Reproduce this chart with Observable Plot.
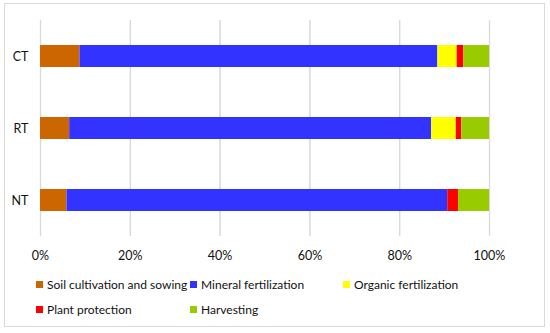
<!DOCTYPE html>
<html>
<head>
<meta charset="utf-8">
<script src="https://cdn.jsdelivr.net/npm/d3@7"></script>
<script src="https://cdn.jsdelivr.net/npm/@observablehq/plot@0.6"></script>
<style>
  html, body { margin: 0; padding: 0; background: #fff; }
  #wrap { position: relative; width: 550px; height: 333px; font-family: Lato, "Open Sans", sans-serif; color: #111; }
  #frame { position: absolute; left: 4px; top: 3px; width: 541px; height: 324px; border: 1px solid #d9d9d9; box-sizing: border-box; }
  #chart { position: absolute; left: 0; top: 0; }
  #legend { position: absolute; left: 36px; top: 276px; display: grid; grid-template-columns: 154px 153px 160px; row-gap: 9px; font-size: 12px; }
  .item { display: flex; align-items: center; white-space: nowrap; height: 16px; }
  .sw { width: 7px; height: 7px; margin-right: 4px; flex: none; }
</style>
</head>
<body>
<div id="wrap">
  <div id="frame"></div>
  <div id="chart"></div>
  <div id="legend"></div>
</div>
<script>
const systems = ["CT", "RT", "NT"];
const stages = ["Soil cultivation and sowing", "Mineral fertilization", "Organic fertilization", "Plant protection", "Harvesting"];
const colors = ["#CC6600", "#3333FF", "#FFFF00", "#FF0000", "#99CC00"];
// percent shares per stage, in order of systems
const soil =    [8.8, 6.5, 5.9];
const mineral = [79.7, 80.6, 84.8];
const organic = [4.3, 5.5, 0.0];
const plant =   [1.5, 1.2, 2.4];
const harvest = [5.7, 6.2, 6.9];
const xTicks = [0, 20, 40, 60, 80, 100];

const series = [soil, mineral, organic, plant, harvest];
const data = [];
systems.forEach((s, i) => {
  stages.forEach((st, j) => data.push({system: s, stage: st, value: series[j][i]}));
});

const chart = Plot.plot({
  width: 550,
  height: 270,
  marginTop: 20,
  marginBottom: 34,
  marginLeft: 40,
  marginRight: 61,
  style: {fontFamily: "Lato, 'Open Sans', sans-serif", fontSize: "12.5px", color: "#111", background: "transparent"},
  x: {domain: [0, 100], ticks: xTicks, tickFormat: d => d + "%", label: null, tickSize: 0, tickPadding: 15, grid: true},
  y: {domain: systems, label: null, tickSize: 0, tickPadding: 12, paddingInner: 0.69, paddingOuter: 0.345},
  color: {domain: stages, range: colors},
  marks: [
    Plot.gridX(xTicks, {stroke: "#d9d9d9", strokeOpacity: 1, strokeWidth: 1.3}),
    Plot.barX(data, Plot.stackX({y: "system", x: "value", fill: "stage", order: stages})),
    Plot.axisX({ticks: xTicks, tickFormat: d => d + "%", tickSize: 0, tickPadding: 15, label: null}),
    Plot.axisY({tickSize: 0, tickPadding: 12, label: null})
  ]
});
document.getElementById("chart").appendChild(chart);

const legend = document.getElementById("legend");
stages.forEach((st, j) => {
  const it = document.createElement("div");
  it.className = "item";
  const sw = document.createElement("span");
  sw.className = "sw";
  sw.style.background = colors[j];
  const tx = document.createElement("span");
  tx.textContent = st;
  it.appendChild(sw);
  it.appendChild(tx);
  legend.appendChild(it);
});
</script>
</body>
</html>
